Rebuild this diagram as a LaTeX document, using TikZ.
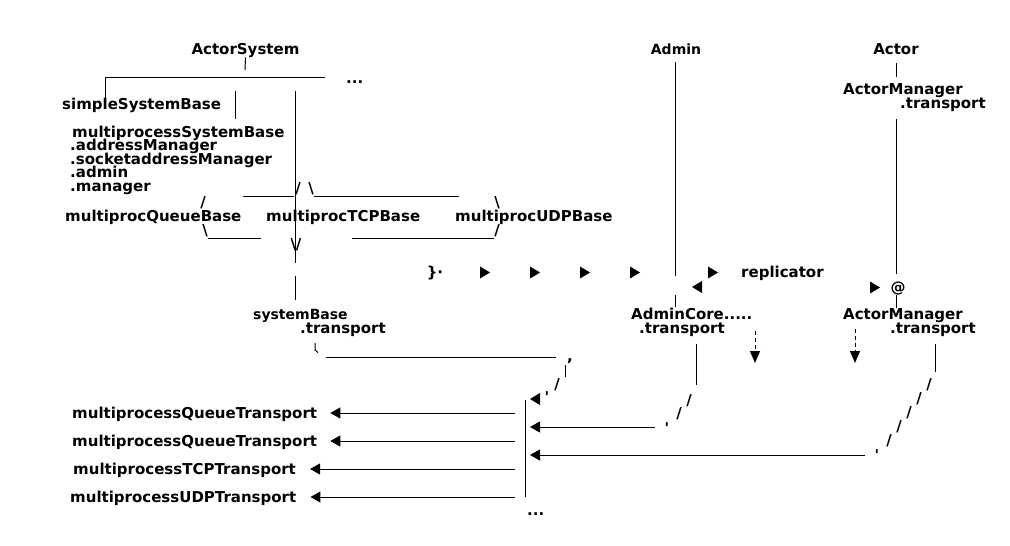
\documentclass[tikz,border=0pt]{standalone}
\usepackage{fontspec}
\setmainfont{DejaVu Sans}
\usetikzlibrary{arrows.meta}

\begin{document}
\begin{tikzpicture}[
  x=1pt, y=-1pt,
  lbl/.style={font=\bfseries\fontsize{15}{15}\selectfont, inner sep=0pt, anchor=base west},
  lblc/.style={lbl, anchor=base},
  small/.style={font=\bfseries\fontsize{14}{14}\selectfont},
  wire/.style={line width=1pt},
  bar/.style={line width=1.3pt},
  arr/.style={wire, -{Triangle[length=10pt, width=11pt]}},
  dasharr/.style={wire, dash pattern=on 4pt off 3pt, -{Triangle[length=12pt, width=10pt]}},
]
  \useasboundingbox (0,0) rectangle (1010,546);

  % heads of the three trees
  \node[lblc]        (actsys) at (245.5,54) {ActorSystem};
  \node[lblc, small] (admin)  at (676,54)   {Admin};
  \node[lblc]        (actor)  at (896,54)   {Actor};

  \coordinate (stem)  at (245,70);
  \coordinate (hubL)  at (105,77);
  \coordinate (hubR)  at (325,77);
  \draw[wire] (actsys.south) -- (stem);
  \draw[wire] (hubL) -- (hubR);
  \node[lbl] (more) at (346,83) {...};

  \node[lbl] (simple) at (62,109.5) {simpleSystemBase};
  \draw[wire] (hubL) -- (hubL |- simple.north);

  \coordinate (mpTop) at (235,91);  \coordinate (mpBot) at (235,119);
  \coordinate (sbTop) at (295,91);  \coordinate (sbCut) at (295,263);
  \coordinate (sbRes) at (295,276); \coordinate (sbBot) at (295,300);
  \draw[wire] (mpTop) -- (mpBot);
  \draw[wire] (sbTop) -- (sbCut);
  \draw[wire] (sbRes) -- (sbBot);

  \node[lbl] (mpsys)  at (72,137)   {multiprocessSystemBase};
  \node[lbl] (mpaddr) at (70,150.5) {.addressManager};
  \node[lbl] (mpsock) at (70,164)   {.socketaddressManager};
  \node[lbl] (mpadm)  at (70,177.5) {.admin};
  \node[lbl] (mpmgr)  at (70,191)   {.manager};

  % the three bases and their brackets
  \node[lblc] (capL) at (298,193) {/};
  \node[lblc] (capR) at (311,193) {\textbackslash};
  \coordinate (capA) at (243,196.5); \coordinate (capB) at (294,196.5);
  \coordinate (capC) at (314,196.5); \coordinate (capD) at (459,196.5);
  \draw[bar] (capA) -- (capB);
  \draw[bar] (capC) -- (capD);
  \node[lblc] (brTL) at (203,207) {/};
  \node[lblc] (brTR) at (497,207) {\textbackslash};

  \node[lbl] (qbase)   at (65,221.5)  {multiprocQueueBase};
  \node[lbl] (tcpbase) at (266,221.5) {multiprocTCPBase};
  \node[lbl] (udpbase) at (455,221.5) {multiprocUDPBase};

  \node[lblc] (brBL) at (205,235) {\textbackslash};
  \node[lblc] (brBR) at (497,235) {/};
  \coordinate (botA) at (208,238.5); \coordinate (botB) at (261,238.5);
  \coordinate (botC) at (352,238.5); \coordinate (botD) at (494,238.5);
  \draw[bar] (botA) -- (botB);
  \draw[bar] (botC) -- (botD);
  \node[lblc] (vee) at (296,249) {\textbackslash/};

  % replicator row
  \node[lblc] (stub) at (435,277) {\}·};
  \foreach \hx/\hy in {485/272.5, 535/272.5, 585/272.5, 635/272.5, 713/272.5, 875/287.5}
    \fill (\hx-5,\hy-6) -- (\hx+5,\hy) -- (\hx-5,\hy+6) -- cycle;
  \foreach \hx/\hy in {697/287, 535/399}
    \fill (\hx+5,\hy-6) -- (\hx-5,\hy) -- (\hx+5,\hy+6) -- cycle;
  \node[lbl]  (replic) at (741,277.5) {replicator};
  \node[lblc] (atsign) at (898,292)   {@};

  \coordinate (admTop) at (675,62);  \coordinate (admCut) at (675,276);
  \coordinate (admRes) at (675,295); \coordinate (admBot) at (675,307);
  \draw[wire] (admTop) -- (admCut);
  \draw[wire] (admRes) -- (admBot);

  \node[lbl] (amgrtop)  at (843,94.5)  {ActorManager};
  \node[lbl] (amgrtopT) at (900,108.5) {.transport};
  \coordinate (actTop) at (896,63);  \coordinate (actEnd) at (896,77);
  \coordinate (actMid) at (896,119); \coordinate (actCut) at (896,274);
  \coordinate (actRes) at (896,295); \coordinate (actBot) at (896,308);
  \draw[wire] (actTop) -- (actEnd);
  \draw[wire] (actMid) -- (actCut);
  \draw[wire] (actRes) -- (actBot);

  % transports
  \node[lbl, small] (sysbase)  at (253,319.5) {systemBase};
  \node[lbl]        (sysbaseT) at (300,333.5) {.transport};
  \node[lbl]        (acore)    at (631,319.5) {AdminCore.....};
  \node[lbl]        (acoreT)   at (639,333.5) {.transport};
  \node[lbl]        (amgr)     at (843,319.5) {ActorManager};
  \node[lbl]        (amgrT)    at (890,333.5) {.transport};

  \coordinate (hook) at (315,343);
  \coordinate (busL) at (326,357); \coordinate (busR) at (556,357);
  \draw[wire] (hook) -- ++(0,7) to[out=90, in=180] ++(3,2.5);
  \draw[wire] (busL) -- (busR);
  \node[lblc] (kink1) at (570,361) {,};
  \coordinate (kinkT) at (565,365); \coordinate (kinkB) at (565,377);
  \draw[wire] (kinkT) -- (kinkB);
  \node[lblc] (kink2) at (557,389) {/};
  \node[lblc] (kink3) at (547,402) {\textquotesingle};

  \coordinate (acTop) at (696,344); \coordinate (acBot) at (696,385);
  \draw[wire] (acTop) -- (acBot);
  \node[lblc] (acs1) at (689,405) {/};
  \node[lblc] (acs2) at (679,418) {/};
  \node[lblc] (acs3) at (667,433) {\textquotesingle};

  \coordinate (amTop) at (935,344); \coordinate (amBot) at (935,372);
  \draw[wire] (amTop) -- (amBot);
  \foreach \k in {0,...,4}
    \node[lblc] (ams\k) at (929-10*\k,389+14*\k) {/};
  \node[lblc] (amtick) at (877,460) {\textquotesingle};

  \coordinate (dnA) at (755,331); \coordinate (dnAend) at (755,363);
  \coordinate (dnB) at (855,329); \coordinate (dnBend) at (855,363);
  \draw[dasharr] (dnA) -- (dnAend);
  \draw[dasharr] (dnB) -- (dnBend);

  % transport fan-out
  \coordinate (trTop) at (525,400); \coordinate (trBot) at (525,497);
  \draw[wire] (trTop) -- (trBot);

  \node[lbl] (qtr1)  at (72,418) {multiprocessQueueTransport};
  \node[lbl] (qtr2)  at (72,446) {multiprocessQueueTransport};
  \node[lbl] (tcptr) at (73,474) {multiprocessTCPTransport};
  \node[lbl] (udptr) at (70,502) {multiprocessUDPTransport};

  \coordinate (out1) at (515,413); \coordinate (out2) at (515,441);
  \coordinate (out3) at (515,469); \coordinate (out4) at (515,497);
  \draw[arr, shorten >=13pt] (out1) -- (out1 -| qtr1.east);
  \draw[arr, shorten >=13pt] (out2) -- (out2 -| qtr2.east);
  \draw[arr, shorten >=14pt] (out3) -- (out3 -| tcptr.east);
  \draw[arr, shorten >=14pt] (out4) -- (out4 -| udptr.east);

  \coordinate (inA) at (655,427); \coordinate (inB) at (865,455);
  \draw[arr, shorten >=5pt] (inA) -- (inA -| trTop);
  \draw[arr, shorten >=5pt] (inB) -- (inB -| trTop);
  \node[lbl] (tail) at (527,515) {...};
\end{tikzpicture}
\end{document}
